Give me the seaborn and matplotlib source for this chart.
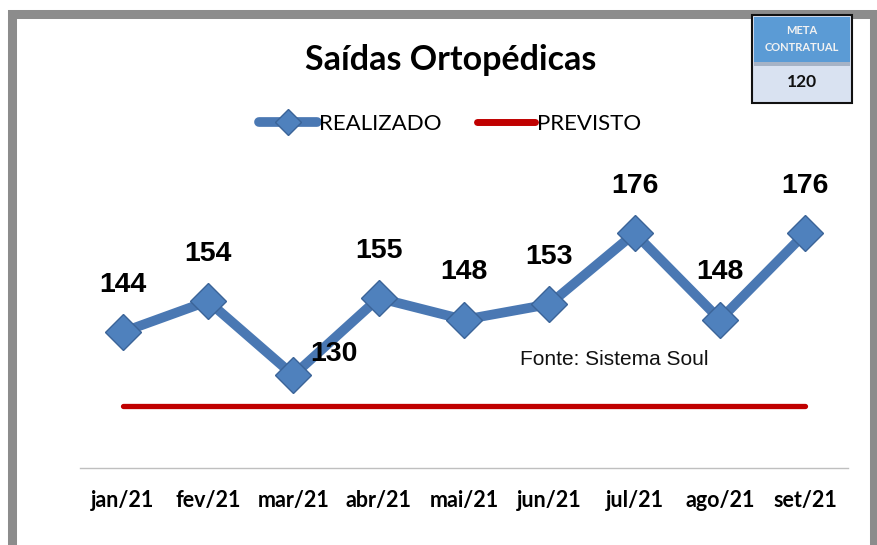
import numpy as np
import pandas as pd
import seaborn as sns
import matplotlib.pyplot as plt
from matplotlib.patches import Rectangle
from matplotlib.lines import Line2D

meses = ["jan/21", "fev/21", "mar/21", "abr/21", "mai/21", "jun/21", "jul/21", "ago/21", "set/21"]
realizado = [144, 154, 130, 155, 148, 153, 176, 148, 176]
previsto = [120, 120, 120, 120, 120, 120, 120, 120, 120]
meta_contratual = 120

sns.set_theme(style="white")
plt.rcParams['font.family'] = ['Lato', 'DejaVu Sans']
plt.rcParams['text.color'] = 'black'
plt.rcParams['xtick.color'] = 'black'

df = pd.DataFrame({"pos": np.arange(len(meses)), "mes": meses,
                   "REALIZADO": realizado, "PREVISTO": previsto})

fig = plt.figure(figsize=(8.78, 5.45), dpi=100)
ax = fig.add_axes([80 / 878, 1 - 468 / 545, 768 / 878, (468 - 159) / 545])

blue = '#4a78b3'
red = '#c00000'
sns.lineplot(data=df, x="pos", y="PREVISTO", color=red, linewidth=3.8, ax=ax,
             solid_capstyle='round')
sns.lineplot(data=df, x="pos", y="REALIZADO", color=blue, linewidth=7, ax=ax,
             marker='D', markersize=18, markerfacecolor='#4f81bd',
             markeredgecolor='#3b6498', markeredgewidth=1)

ax.set_xlim(-0.5, len(meses) - 0.5)
ax.set_ylim(100, 200)
ax.set_xticks(df["pos"])
ax.set_xticklabels(meses, fontsize=15.5, fontweight='bold', color='black')
ax.tick_params(axis='x', length=0, pad=16)
ax.set_yticks([])
ax.set_xlabel("")
ax.set_ylabel("")
for s in ["top", "left", "right"]:
    ax.spines[s].set_visible(False)
ax.spines["bottom"].set_color('#bfbfbf')
ax.spines["bottom"].set_linewidth(1)

# rótulos dos valores
for i, v in enumerate(realizado):
    off = (0, 34)
    if i == 2:
        off = (29, 15)
    ax.annotate(str(v), (i, v), xytext=off, textcoords='offset points',
                ha='center', va='center', fontsize=20.5, fontweight='bold', color='black',
                family=['Liberation Sans', 'DejaVu Sans'])

ax.text(0.573, 0.35, "Fonte: Sistema Soul", transform=ax.transAxes,
        fontsize=15, family=['Liberation Sans', 'DejaVu Sans'], color='#111111',
        ha='left', va='center')

fig.text(0.513, 1 - 60 / 545, "Saídas Ortopédicas", ha='center', va='center',
         fontsize=24.5, fontweight='bold', color='black')

handles = [Line2D([], [], color=blue, linewidth=7, marker='D', markersize=13,
                  markerfacecolor='#4f81bd', markeredgecolor='#3b6498', solid_capstyle='round'),
           Line2D([], [], color=red, linewidth=5, solid_capstyle='round')]
fig.legend(handles, ["REALIZADO", "PREVISTO"], loc='center', bbox_to_anchor=(0.513, 1 - 124 / 545),
           ncol=2, frameon=False, fontsize=16, handlelength=2.6, handletextpad=0.1,
           columnspacing=1.6)

# moldura cinza
fig.patches.append(Rectangle((11.5 / 878, 1 - 546.5 / 545), 863 / 878, 533 / 545,
                             transform=fig.transFigure, fill=False,
                             edgecolor='#8c8c8c', linewidth=6.5, clip_on=False))

# caixa META CONTRATUAL
def fx(px):
    return px / 878

def fy(py):
    return 1 - py / 545

fig.patches.append(Rectangle((fx(752), fy(103)), fx(100), 88 / 545, transform=fig.transFigure,
                             facecolor='#d9e2f1', edgecolor='#111111', linewidth=1.5))
fig.patches.append(Rectangle((fx(754), fy(62)), fx(96), 45 / 545, transform=fig.transFigure,
                             facecolor='#5b9bd5', edgecolor='none'))
fig.patches.append(Rectangle((fx(754), fy(66)), fx(96), 4 / 545, transform=fig.transFigure,
                             facecolor='#a6b3c6', edgecolor='none'))
fig.text(fx(802), fy(31), "META", ha='center', va='center', fontsize=8,
         fontweight='bold', color='#f2f2f2')
fig.text(fx(802), fy(47), "CONTRATUAL", ha='center', va='center', fontsize=8,
         fontweight='bold', color='#f2f2f2')
fig.text(fx(802), fy(82), str(meta_contratual), ha='center', va='center', fontsize=12.5,
         fontweight='bold', color='#111111')

fig.savefig("out.png", dpi=100)
